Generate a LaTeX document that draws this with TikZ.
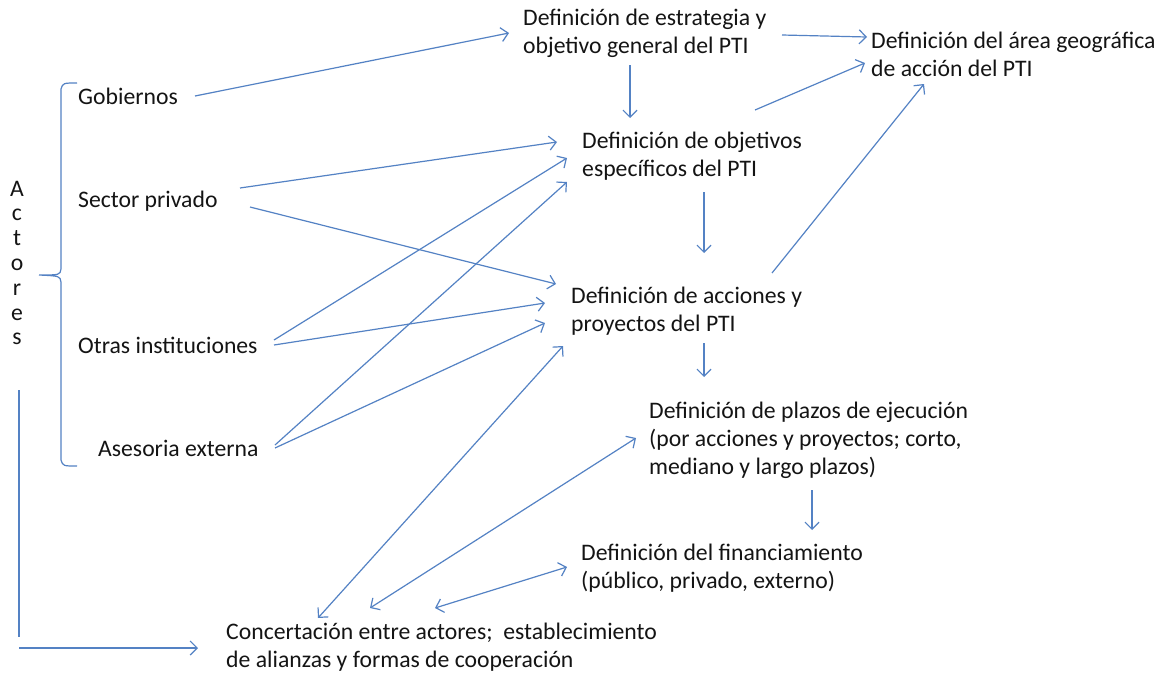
\documentclass[tikz,border=0pt]{standalone}
\usepackage{fontspec}
\setmainfont{Carlito}
\usetikzlibrary{arrows.meta}
\definecolor{lnblue}{RGB}{84,130,196}
\definecolor{txt}{RGB}{20,20,20}
\begin{document}
\begin{tikzpicture}[x=1pt,y=-1pt,
  lbl/.style={anchor=west,inner sep=0pt,align=left,text=txt,font=\fontsize{23.7}{28}\selectfont},
  arr/.style={draw=lnblue,line width=1.2pt,-{Straight Barb[length=7pt,width=14pt]}},
  darr/.style={draw=lnblue,line width=1.2pt,{Straight Barb[length=7pt,width=14pt]}-{Straight Barb[length=7pt,width=14pt]}},
  ln/.style={draw=lnblue,line width=1.2pt}]
\useasboundingbox (0,0) rectangle (1164,675);
\fill[white] (0,0) rectangle (1164,675);
% nodes
\node[lbl] (estr) at (523,33) {Definición de estrategia y\\objetivo general del PTI};
\node[lbl] (area) at (871,54) {Definición del área geográfica\\de acción del PTI};
\node[lbl] (gob) at (78,96) {Gobiernos};
\node[lbl] (obj) at (582,156) {Definición de objetivos\\específicos del PTI};
\node[lbl] (sec) at (78,201) {Sector privado};
\node[lbl] (acc) at (571,311) {Definición de acciones y\\proyectos del PTI};
\node[lbl] (otr) at (78,345) {Otras instituciones};
\node[lbl] (ase) at (98,448) {Asesoria externa};
\node[lbl] (plaz) at (649,440) {Definición de plazos de ejecución\\(por acciones y proyectos; corto,\\mediano y largo plazos)};
\node[lbl] (fin) at (581,568) {Definición del financiamiento\\(público, privado, externo)};
\node[lbl] (conc) at (226,647) {Concertación entre actores;\ \ establecimiento\\de alianzas y formas de cooperación};
\node[inner sep=0pt,align=center,text=txt,font=\fontsize{23.7}{24.8}\selectfont] (act) at (17,263) {A\\c\\t\\o\\r\\e\\s};
% brace
\draw[ln] (77,83) .. controls (63,83) .. (61,89) -- (61,269) .. controls (60,275) .. (39,275)
          (39,275) .. controls (60,276) .. (61,282) -- (61,460) .. controls (63,466) .. (77,466);
% connectors
\draw[arr] ([shift={(117,0)}]gob.west) -- ([shift={(-14,0)}]estr.west);
\draw[arr] ([shift={(259,2)}]estr.west) -- ([shift={(-4,-17)}]area.west);
\draw[arr] ([shift={(107,32)}]estr.west) -- ([shift={(48,-38)}]obj.west);
\draw[arr] ([shift={(173,-46)}]obj.west) -- ([shift={(-6,9)}]area.west);
\draw[arr] ([shift={(201,-38)}]acc.west) -- ([shift={(53,30)}]area.west);
\draw[arr] ([shift={(162,-13)}]sec.west) -- ([shift={(-25,-14)}]obj.west);
\draw[arr] ([shift={(172,6)}]sec.west) -- ([shift={(-15,-27)}]acc.west);
\draw[arr] ([shift={(196,-5)}]otr.west) -- ([shift={(-15,2)}]obj.west);
\draw[arr] ([shift={(196,0)}]otr.west) -- ([shift={(-26,-8)}]acc.west);
\draw[arr] ([shift={(177,-3)}]ase.west) -- ([shift={(-15,26)}]obj.west);
\draw[arr] ([shift={(177,0)}]ase.west) -- ([shift={(-26,12)}]acc.west);
\draw[arr] ([shift={(122,36)}]obj.west) -- ([shift={(133,-58)}]acc.west);
\draw[arr] ([shift={(133,32)}]acc.west) -- ([shift={(55,-63)}]plaz.west);
\draw[arr] ([shift={(163,50)}]plaz.west) -- ([shift={(231,-38)}]fin.west);
\draw[darr] ([shift={(92,-29)}]conc.west) -- ([shift={(-8,35)}]acc.west);
\draw[darr] ([shift={(144,-39)}]conc.west) -- ([shift={(-13,-2)}]plaz.west);
\draw[darr] ([shift={(209,-39)}]conc.west) -- ([shift={(-14,-1)}]fin.west);
\draw[ln] ([shift={(2,127)}]act.center) -- ([shift={(2,374)}]act.center);
\draw[arr] ([shift={(2,385)}]act.center) -- ([shift={(-28,1)}]conc.west);
\end{tikzpicture}
\end{document}
